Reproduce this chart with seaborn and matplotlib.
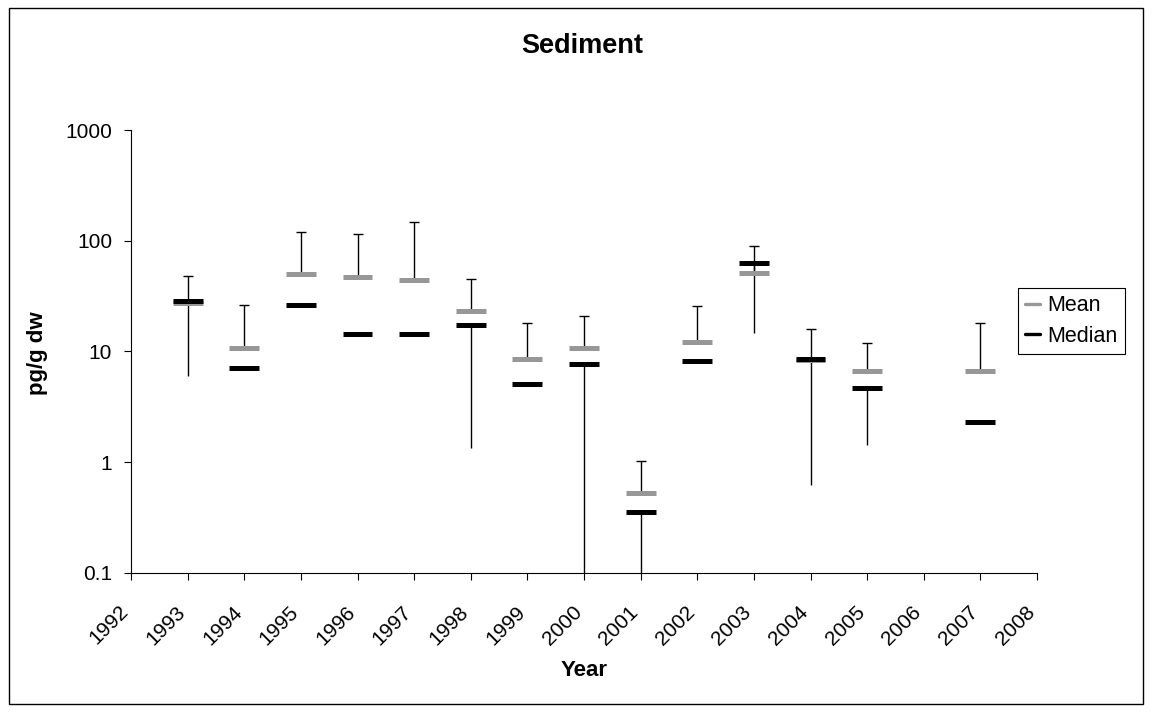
import numpy as np
import pandas as pd
import matplotlib
matplotlib.use("Agg")
import matplotlib.pyplot as plt
from matplotlib.lines import Line2D
from matplotlib.patches import Rectangle
from matplotlib.transforms import ScaledTranslation
import seaborn as sns

# Sediment concentrations (pg/g dw) per sampling year
years = [1993, 1994, 1995, 1996, 1997, 1998, 1999, 2000, 2001, 2002, 2003, 2004, 2005, 2007]
mean_vals = [27.5, 10.7, 50.0, 47.0, 44.5, 23.0, 8.5, 10.7, 0.53, 12.1, 51.3, 8.4, 6.7, 6.7]
median_vals = [28.5, 7.1, 26.0, 14.4, 14.4, 17.3, 5.1, 7.7, 0.35, 8.2, 62.8, 8.5, 4.7, 2.3]
max_vals = [48.0, 26.4, 119.0, 115.0, 146.0, 44.7, 18.1, 20.8, 1.02, 25.7, 88.8, 15.9, 12.0, 18.1]
min_vals = [6.0, np.nan, np.nan, np.nan, np.nan, 1.33, np.nan, 0.05, 0.05, np.nan, 14.5, 0.62, 1.42, np.nan]

year_ticks = list(range(1992, 2009))
y_ticks = [0.1, 1, 10, 100, 1000]
y_tick_labels = ["0.1", "1", "10", "100", "1000"]

sns.set_style("white")
plt.rcParams["font.family"] = ["Liberation Sans", "DejaVu Sans"]
plt.rcParams["text.color"] = "black"

DPI = 100
W, H = 1152, 712
fig = plt.figure(figsize=(W / DPI, H / DPI), dpi=DPI)
fig.patch.set_facecolor("white")

ax_l, ax_r, ax_t, ax_b = 131, 1037, 130, 572.7
ax = fig.add_axes([ax_l / W, 1 - ax_b / H, (ax_r - ax_l) / W, (ax_b - ax_t) / H])
ax.set_facecolor("white")

mean_color = "#979797"
median_color = "#000000"

# whiskers: mean -> max (capped), median -> min (open end)
ax.vlines(years, mean_vals, max_vals, color="black", linewidth=1.0, zorder=2)
low_years = [y for y, m in zip(years, min_vals) if not np.isnan(m)]
low_from = [md for md, m in zip(median_vals, min_vals) if not np.isnan(m)]
low_to = [m for m in min_vals if not np.isnan(m)]
ax.vlines(low_years, low_to, low_from, color="black", linewidth=1.0, zorder=2)
ax.scatter(years, max_vals, marker="_", s=62, linewidths=1.0, color="black", zorder=2)

df = pd.DataFrame({
    "year": years + years,
    "value": mean_vals + median_vals,
    "stat": ["Mean"] * len(years) + ["Median"] * len(years),
})
sns.scatterplot(data=df, x="year", y="value", hue="stat",
                palette={"Mean": mean_color, "Median": median_color},
                marker="_", s=466, linewidth=3.6, legend=False, ax=ax, zorder=3)

ax.set_yscale("log")
ax.set_ylim(0.1, 1000)
ax.set_yticks(y_ticks)
ax.set_yticklabels(y_tick_labels)
ax.minorticks_off()
ax.set_xlim(1992, 2008)
ax.set_xticks(year_ticks)
ax.set_xticklabels([str(y) for y in year_ticks], rotation=45, ha="right",
                   va="center", rotation_mode="anchor")
ax.set_xlabel("")
ax.set_ylabel("")

for side in ("top", "right"):
    ax.spines[side].set_visible(False)
for side in ("left", "bottom"):
    ax.spines[side].set_color("black")
    ax.spines[side].set_linewidth(0.8)

ax.tick_params(axis="both", which="major", direction="out", length=5, width=0.8,
               color="black", labelsize=15, labelcolor="black",
               bottom=True, left=True, top=False, right=False)
ax.tick_params(axis="y", pad=8.5)
ax.tick_params(axis="x", pad=21)
shift = ScaledTranslation(-5.3 / DPI, 0, fig.dpi_scale_trans)
for lab in ax.get_xticklabels():
    lab.set_transform(lab.get_transform() + shift)

fig.text(582 / W, 1 - 46 / H, "Sediment", ha="center", va="center",
         fontsize=19.5, fontweight="bold", color="black")
fig.text(38 / W, 1 - 353 / H, "pg/g dw", ha="center", va="center",
         rotation=90, fontsize=16, fontweight="bold", color="black")
fig.text(584 / W, 1 - 671 / H, "Year", ha="center", va="center",
         fontsize=16, fontweight="bold", color="black")

handles = [Line2D([], [], color=mean_color, linewidth=2.4),
           Line2D([], [], color=median_color, linewidth=2.4)]
leg = fig.legend(handles, ["Mean", "Median"], loc="upper left",
                 bbox_to_anchor=(1017.7 / W, 1 - 287.7 / H), bbox_transform=fig.transFigure,
                 borderaxespad=0, fontsize=15.5, handlelength=0.7, handletextpad=0.3,
                 borderpad=0.35, labelspacing=0.45, fancybox=False, shadow=False,
                 framealpha=1)
leg.get_frame().set_edgecolor("black")
leg.get_frame().set_linewidth(0.8)
for t in leg.get_texts():
    t.set_color("black")

# chart-area border
fig.patches.append(Rectangle((9 / W, 8 / H), (1143 - 9) / W, (704 - 8) / H,
                             transform=fig.transFigure, fill=False,
                             edgecolor="black", linewidth=1.0))

fig.savefig("out.png", dpi=DPI, facecolor="white")
